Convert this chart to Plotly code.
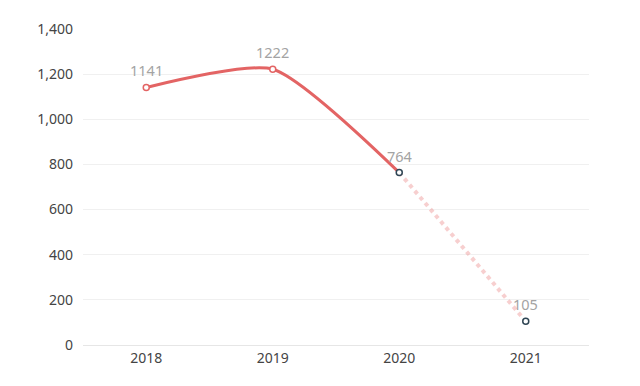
import plotly.graph_objects as go

years = ["2018", "2019", "2020", "2021"]
actual_years = ["2018", "2019", "2020"]
actual_values = [1141, 1222, 764]
forecast_years = ["2020", "2021"]
forecast_values = [764, 105]
label_values = [1141, 1222, 764, 105]
y_ticks = [0, 200, 400, 600, 800, 1000, 1200, 1400]

red = "#e36464"
pink = "rgba(235,130,130,0.38)"
navy = "#2f4554"
font_family = "Noto Sans, DejaVu Sans, sans-serif"

fig = go.Figure()

fig.add_trace(go.Scatter(
    x=forecast_years, y=forecast_values, mode="lines",
    line=dict(color=pink, width=4, dash="dot", shape="spline"),
    hoverinfo="skip", showlegend=False,
))
fig.add_trace(go.Scatter(
    x=actual_years, y=actual_values, mode="lines",
    line=dict(color=red, width=3, shape="spline", smoothing=0.6),
    hoverinfo="skip", showlegend=False,
))
fig.add_trace(go.Scatter(
    x=years, y=label_values, mode="markers",
    marker=dict(size=6, color="white",
                line=dict(width=1.5, color=[red, red, navy, navy])),
    showlegend=False,
))

annotations = [
    dict(x=i, y=v, xref="x", yref="y", text=str(v), showarrow=False,
         yshift=17, font=dict(size=14.5, color="#a3a3a3", family=font_family))
    for i, v in enumerate(label_values)
]

fig.update_layout(
    width=632, height=378,
    margin=dict(l=75, r=51, t=21, b=41),
    paper_bgcolor="white", plot_bgcolor="white",
    font=dict(family=font_family, color="#444"),
    annotations=annotations,
    xaxis=dict(
        type="category", categoryorder="array", categoryarray=years,
        range=[-0.5, 3.5], showgrid=False, zeroline=False,
        showline=True, linecolor="#e6e6e6", linewidth=1,
        ticks="", tickfont=dict(size=14, color="#444"), ticklabelstandoff=0,
    ),
    yaxis=dict(
        range=[0, 1400], tickvals=y_ticks,
        ticktext=[f"{v:,}" for v in y_ticks],
        showgrid=True, gridcolor="#f0f0f0", gridwidth=1,
        zeroline=False, showline=False, ticks="",
        tickfont=dict(size=14, color="#444"), ticklabelstandoff=9,
    ),
    shapes=[dict(type="line", xref="paper", yref="paper",
                 x0=1.095, x1=1.095, y0=-0.12, y1=1.07,
                 line=dict(color="#444", width=2))],
)

fig.write_html("out.html")
